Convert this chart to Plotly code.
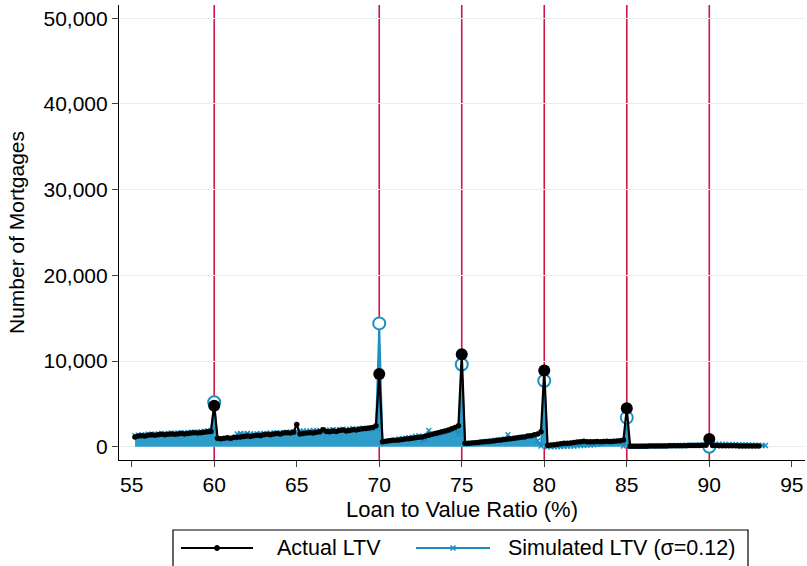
import plotly.graph_objects as go

# ---------------- data ----------------
ltv_start = 55.2      # first LTV bin (%)
ltv_step = 0.2        # bin width (%)

# Actual LTV counts, bins 55.2 ... 93.0
actual_ltv = [
    # 55.2 - 59.8
    1150, 1250, 1300, 1250, 1350, 1400, 1350, 1400, 1450, 1400, 1450, 1500,
    1450, 1500, 1550, 1500, 1550, 1600, 1650, 1600, 1650, 1700, 1750, 1800,
    4800,  # 60
    # 60.2 - 64.8
    1000, 950, 1000, 1050, 1000, 1100, 1100, 1150, 1200, 1250, 1200, 1300,
    1350, 1300, 1400, 1450, 1400, 1500, 1550, 1500, 1600, 1650, 1600, 1700,
    2600,  # 65
    # 65.2 - 69.8
    1500, 1550, 1600, 1650, 1600, 1700, 1750, 2000, 1800, 1750, 1850, 1800,
    1900, 1950, 1850, 1900, 2000, 1950, 2050, 2100, 2150, 2200, 2250, 2450,
    8500,  # 70
    # 70.2 - 74.8
    600, 650, 700, 750, 750, 800, 850, 900, 950, 1000, 1050, 1100,
    1150, 1250, 1350, 1450, 1550, 1650, 1750, 1850, 1950, 2100, 2250, 2450,
    10800,  # 75
    # 75.2 - 79.8
    400, 420, 450, 480, 500, 550, 580, 620, 650, 700, 750, 800,
    850, 900, 950, 1000, 1050, 1100, 1150, 1250, 1300, 1400, 1500, 1750,
    8900,  # 80
    # 80.2 - 84.8
    150, 200, 250, 300, 350, 400, 420, 450, 500, 550, 600, 650,
    600, 580, 600, 620, 600, 620, 650, 620, 650, 680, 700, 800,
    4500,  # 85
    # 85.2 - 89.8
    50, 50, 60, 60, 70, 70, 80, 80, 90, 90, 100, 100,
    110, 110, 120, 120, 130, 130, 140, 150, 150, 160, 170, 180,
    900,  # 90
    # 90.2 - 93.0
    150, 140, 130, 130, 120, 120, 110, 110, 100, 100, 100, 90, 90, 80, 80,
]

# Simulated LTV counts (sigma = 0.12), bins 55.2 ... 93.4
simulated_ltv = [
    # 55.2 - 59.8
    1300, 1350, 1400, 1350, 1450, 1450, 1450, 1500, 1550, 1500, 1550, 1600,
    1550, 1600, 1650, 1600, 1650, 1700, 1700, 1700, 1750, 1800, 1850, 1900,
    5200,  # 60
    # 60.2 - 64.8
    850, 850, 900, 900, 950, 950, 1500, 1550, 1500, 1550, 1500, 1450,
    1500, 1550, 1500, 1550, 1600, 1550, 1650, 1600, 1650, 1700, 1700, 1750,
    1800,  # 65
    # 65.2 - 69.8
    1800, 1850, 1800, 1850, 1900, 1850, 1900, 1950, 1900, 1950, 2000, 1950,
    2000, 2050, 2000, 2050, 2100, 2050, 2100, 2150, 2100, 2200, 2150, 2200,
    14400,  # 70
    # 70.2 - 74.8
    500, 600, 650, 700, 800, 900, 950, 1000, 1050, 1100, 1200, 1250,
    800, 900, 1900, 1400, 1500, 1600, 1700, 1800, 1900, 2000, 2100, 1500,
    9600,  # 75
    # 75.2 - 79.8
    300, 350, 400, 450, 500, 550, 600, 650, 700, 750, 800, 850,
    900, 1400, 950, 1000, 1050, 1100, 1150, 1200, 1250, 1300, 700, 100,
    7700,  # 80
    # 80.2 - 84.8
    0, 0, 20, 30, 50, 50, 80, 100, 100, 120, 150, 150,
    200, 200, 250, 300, 350, 400, 450, 500, 550, 600, 650, 100,
    3400,  # 85
    # 85.2 - 89.8
    50, 60, 60, 70, 80, 80, 90, 100, 100, 110, 120, 120,
    130, 140, 150, 150, 160, 170, 180, 190, 200, 200, 210, 220,
    0,  # 90
    # 90.2 - 93.4
    300, 300, 280, 280, 260, 260, 250, 240, 230, 220, 210, 200, 190, 180, 170, 160, 150,
]

threshold_ltv = [60, 70, 75, 80, 85, 90]
x_tick_vals = [55, 60, 65, 70, 75, 80, 85, 90, 95]
y_tick_vals = [0, 10000, 20000, 30000, 40000, 50000]
y_tick_text = ["0", "10,000", "20,000", "30,000", "40,000", "50,000"]
series_names = ["Actual LTV", "Simulated LTV (σ=0.12)"]

x_actual = [round(ltv_start + ltv_step * i, 1) for i in range(len(actual_ltv))]
x_sim = [round(ltv_start + ltv_step * i, 1) for i in range(len(simulated_ltv))]

act_map = dict(zip(x_actual, actual_ltv))
sim_map = dict(zip(x_sim, simulated_ltv))
act_thr = [act_map[float(t)] for t in threshold_ltv]
sim_thr = [sim_map[float(t)] for t in threshold_ltv]

# ---------------- style ----------------
FONT = "Liberation Sans, Arial, Helvetica, sans-serif"
BLUE_LINE = "#1b8fc2"
BLUE_FILL = "#2f9dca"
RED = "#cc1744"
W, H = 807, 566
L, R, T, B = 119, 2, 5, 106

fig = go.Figure()

fig.add_trace(go.Scatter(
    x=x_sim, y=simulated_ltv, mode="lines+markers", name=series_names[1],
    fill="tozeroy", fillcolor=BLUE_FILL,
    line=dict(color=BLUE_LINE, width=1.8),
    marker=dict(symbol="x-thin", size=5, line=dict(color=BLUE_LINE, width=1.5)),
    showlegend=False,
))
fig.add_trace(go.Scatter(
    x=threshold_ltv, y=sim_thr, mode="markers", showlegend=False,
    marker=dict(symbol="circle", size=12, color="white",
                line=dict(color=BLUE_LINE, width=2)),
    hoverinfo="skip",
))
fig.add_trace(go.Scatter(
    x=x_actual, y=actual_ltv, mode="lines+markers", name=series_names[0],
    line=dict(color="black", width=2.2),
    marker=dict(symbol="circle", size=5.5, color="black"),
    showlegend=False,
))
fig.add_trace(go.Scatter(
    x=threshold_ltv, y=act_thr, mode="markers", showlegend=False,
    marker=dict(symbol="circle", size=12, color="black"),
    hoverinfo="skip",
))

# red threshold lines (behind data)
for t in threshold_ltv:
    fig.add_shape(type="line", xref="x", yref="paper", x0=t, x1=t, y0=0, y1=1,
                  line=dict(color=RED, width=1.6), layer="below")

# ---------------- manual legend ----------------
pw = W - L - R
ph = H - T - B


def px(x):
    return (x - L) / pw


def py(y):
    return (H - B - y) / ph


fig.add_shape(type="rect", xref="paper", yref="paper",
              x0=px(173), x1=px(748), y0=py(530), y1=py(580),
              line=dict(color="black", width=1.2), fillcolor="white")
ly = py(548)
fig.add_shape(type="line", xref="paper", yref="paper", x0=px(181), x1=px(253),
              y0=ly, y1=ly, line=dict(color="black", width=2))
fig.add_shape(type="circle", xref="paper", yref="paper",
              x0=px(214.5), x1=px(219.5), y0=py(550.5), y1=py(545.5),
              line=dict(color="black", width=1), fillcolor="black")
fig.add_shape(type="line", xref="paper", yref="paper", x0=px(416), x1=px(490),
              y0=ly, y1=ly, line=dict(color=BLUE_LINE, width=2))
for d in (1, -1):
    fig.add_shape(type="line", xref="paper", yref="paper",
                  x0=px(450.5), x1=px(455.5), y0=py(548 - 2.5 * d), y1=py(548 + 2.5 * d),
                  line=dict(color=BLUE_LINE, width=1.6))
fig.add_annotation(xref="paper", yref="paper", x=px(275), y=ly, text=series_names[0],
                   showarrow=False, xanchor="left", yanchor="middle",
                   font=dict(family=FONT, size=21.5, color="black"))
fig.add_annotation(xref="paper", yref="paper", x=px(506), y=ly, text=series_names[1],
                   showarrow=False, xanchor="left", yanchor="middle",
                   font=dict(family=FONT, size=21.5, color="black"))

fig.update_layout(
    width=W, height=H,
    margin=dict(l=L, r=R, t=T, b=B),
    paper_bgcolor="white", plot_bgcolor="white",
    font=dict(family=FONT, size=21, color="black"),
    showlegend=False,
    xaxis=dict(
        range=[54.23, 95.8], tickvals=x_tick_vals, showgrid=False, zeroline=False,
        showline=True, linecolor="black", linewidth=1.2,
        ticks="outside", ticklen=6, tickwidth=1.2, tickcolor="#444",
        tickfont=dict(size=21),
        title=dict(text="Loan to Value Ratio (%)", font=dict(size=22), standoff=6),
    ),
    yaxis=dict(
        range=[-1540, 51550], tickvals=y_tick_vals, ticktext=y_tick_text,
        showgrid=True, gridcolor="#e6eff0", gridwidth=1.2, zeroline=False,
        showline=True, linecolor="black", linewidth=1.2,
        ticks="outside", ticklen=6, tickwidth=1.2, tickcolor="#444",
        tickfont=dict(size=21),
        title=dict(text="Number of Mortgages", font=dict(size=21), standoff=13),
    ),
)

fig.write_html("out.html")
